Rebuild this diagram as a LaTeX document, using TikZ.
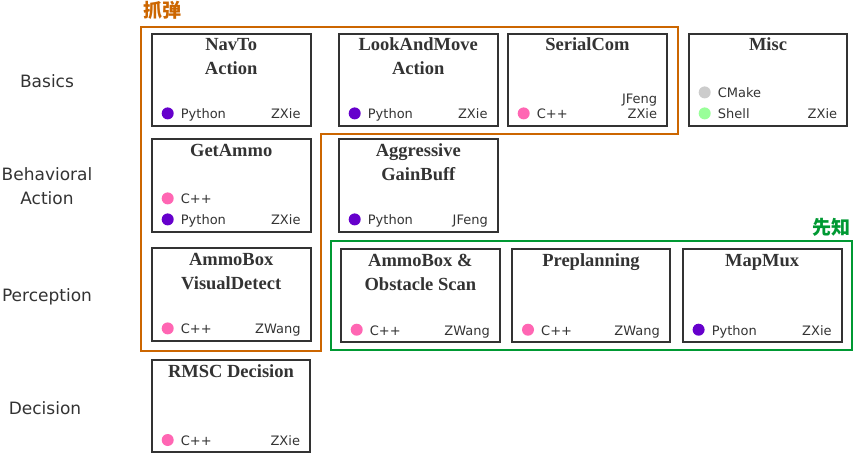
\documentclass[tikz,border=0pt]{standalone}
\usepackage{fontspec}
\setmainfont{Liberation Serif}
\setsansfont{DejaVu Sans}
\newfontfamily\cjkfont{Noto Sans CJK SC}
\usetikzlibrary{calc}
\definecolor{ink}{HTML}{333333}
\definecolor{grouporange}{HTML}{CC6600}
\definecolor{groupgreen}{HTML}{009933}
\definecolor{py}{HTML}{6600CC}
\definecolor{cpp}{HTML}{FF66B3}
\definecolor{cmake}{HTML}{CCCCCC}
\definecolor{shell}{HTML}{99FF99}
\newcommand\langrow[4]{%
  \node[dot,fill=#3] (#1-d#2) at ($(#1.south west)+(17,{-13.3-21*#2})$) {};
  \node[lang] (#1-l#2) at ($(#1.south west)+(30,{-8-21*#2})$) {#4};}
\begin{document}
\begin{tikzpicture}[x=1pt,y=-1pt,
  card/.style={draw=ink,line width=2pt,inner sep=0pt,anchor=north west,minimum width=159pt,minimum height=92pt},
  cardtitle/.style={anchor=base,inner sep=0pt,align=center,text=ink,font=\fontsize{18.5}{24}\selectfont\bfseries},
  dot/.style={circle,draw=none,inner sep=0pt,minimum size=12pt},
  lang/.style={anchor=base west,inner sep=0pt,text=ink,font=\sffamily\fontsize{13}{15}\selectfont},
  author/.style={anchor=base east,inner sep=0pt,align=right,text=ink,font=\sffamily\fontsize{13}{15}\selectfont},
  rowlabel/.style={align=center,inner sep=0pt,text=ink,font=\sffamily\fontsize{17}{24}\selectfont},
  grouplabel/.style={inner sep=0pt,font=\cjkfont\bfseries\fontsize{19}{21}\selectfont}]
\useasboundingbox (0,0) rectangle (853,456);

% groups
\draw[grouporange,line width=2pt] (141,27) -- (678,27) -- (678,134) -- (321,134) -- (321,351) -- (141,351) -- cycle;
\draw[groupgreen,line width=2pt] (331,241) rectangle (851.5,350);
\node[grouplabel,text=grouporange,anchor=north west] (lblzhuadan) at (143,1) {抓弹};
\node[grouplabel,text=groupgreen,anchor=north east] (lblxianzhi) at (851,218) {先知};

% row labels
\node[rowlabel] (rbasics) at (47,81) {Basics};
\node[rowlabel] (rbehav) at (47,186.5) {Behavioral\\Action};
\node[rowlabel] (rperc) at (47,296.5) {Perception};
\node[rowlabel] (rdec) at (45,408.5) {Decision};

% cards
\node[card] (navto) at (150.7,32.7) {};
\node[cardtitle] (navto-t) at ($(navto.north)+(0,42)$) {NavTo\\Action};
\langrow{navto}{0}{py}{Python}
\node[author] (navto-a) at ($(navto.south east)+(-11,-8)$) {ZXie};

\node[card] (look) at (337.7,32.7) {};
\node[cardtitle] (look-t) at ($(look.north)+(0,42)$) {LookAndMove\\Action};
\langrow{look}{0}{py}{Python}
\node[author] (look-a) at ($(look.south east)+(-11,-8)$) {ZXie};

\node[card,minimum width=159.6pt] (serial) at (506.7,32.7) {};
\node[cardtitle] (serial-t) at ($(serial.north)+(0,18)$) {SerialCom};
\langrow{serial}{0}{cpp}{C++}
\node[author] (serial-a) at ($(serial.south east)+(-11,-8)$) {JFeng\\ZXie};

\node[card,minimum width=158.6pt] (misc) at (687.7,32.7) {};
\node[cardtitle] (misc-t) at ($(misc.north)+(0,18)$) {Misc};
\langrow{misc}{1}{cmake}{CMake}
\langrow{misc}{0}{shell}{Shell}
\node[author] (misc-a) at ($(misc.south east)+(-11,-8)$) {ZXie};

\node[card,minimum height=92.4pt] (getammo) at (150.7,138.3) {};
\node[cardtitle] (getammo-t) at ($(getammo.north)+(0,18)$) {GetAmmo};
\langrow{getammo}{1}{cpp}{C++}
\langrow{getammo}{0}{py}{Python}
\node[author] (getammo-a) at ($(getammo.south east)+(-11,-8)$) {ZXie};

\node[card,minimum width=159.3pt,minimum height=92.4pt] (aggr) at (337.7,138.3) {};
\node[cardtitle] (aggr-t) at ($(aggr.north)+(0,42)$) {Aggressive\\GainBuff};
\langrow{aggr}{0}{py}{Python}
\node[author] (aggr-a) at ($(aggr.south east)+(-11,-8)$) {JFeng};

\node[card,minimum height=92.4pt] (visual) at (150.7,247.3) {};
\node[cardtitle] (visual-t) at ($(visual.north)+(0,42)$) {AmmoBox\\VisualDetect};
\langrow{visual}{0}{cpp}{C++}
\node[author] (visual-a) at ($(visual.south east)+(-11,-8)$) {ZWang};

\node[card,minimum width=159.3pt,minimum height=92.7pt] (obst) at (339.7,248.3) {};
\node[cardtitle] (obst-t) at ($(obst.north)+(0,42)$) {AmmoBox \&\\Obstacle Scan};
\langrow{obst}{0}{cpp}{C++}
\node[author] (obst-a) at ($(obst.south east)+(-11,-8)$) {ZWang};

\node[card,minimum width=158pt,minimum height=92.7pt] (prepl) at (511,248.3) {};
\node[cardtitle] (prepl-t) at ($(prepl.north)+(0,18)$) {Preplanning};
\langrow{prepl}{0}{cpp}{C++}
\node[author] (prepl-a) at ($(prepl.south east)+(-11,-8)$) {ZWang};

\node[card,minimum width=159.2pt,minimum height=92.7pt] (mapmux) at (681.6,248.3) {};
\node[cardtitle] (mapmux-t) at ($(mapmux.north)+(0,18)$) {MapMux};
\langrow{mapmux}{0}{py}{Python}
\node[author] (mapmux-a) at ($(mapmux.south east)+(-11,-8)$) {ZXie};

\node[card,minimum width=158.5pt] (rmsc) at (150.7,359.3) {};
\node[cardtitle] (rmsc-t) at ($(rmsc.north)+(0,18)$) {RMSC Decision};
\langrow{rmsc}{0}{cpp}{C++}
\node[author] (rmsc-a) at ($(rmsc.south east)+(-11,-8)$) {ZXie};
\end{tikzpicture}
\end{document}
